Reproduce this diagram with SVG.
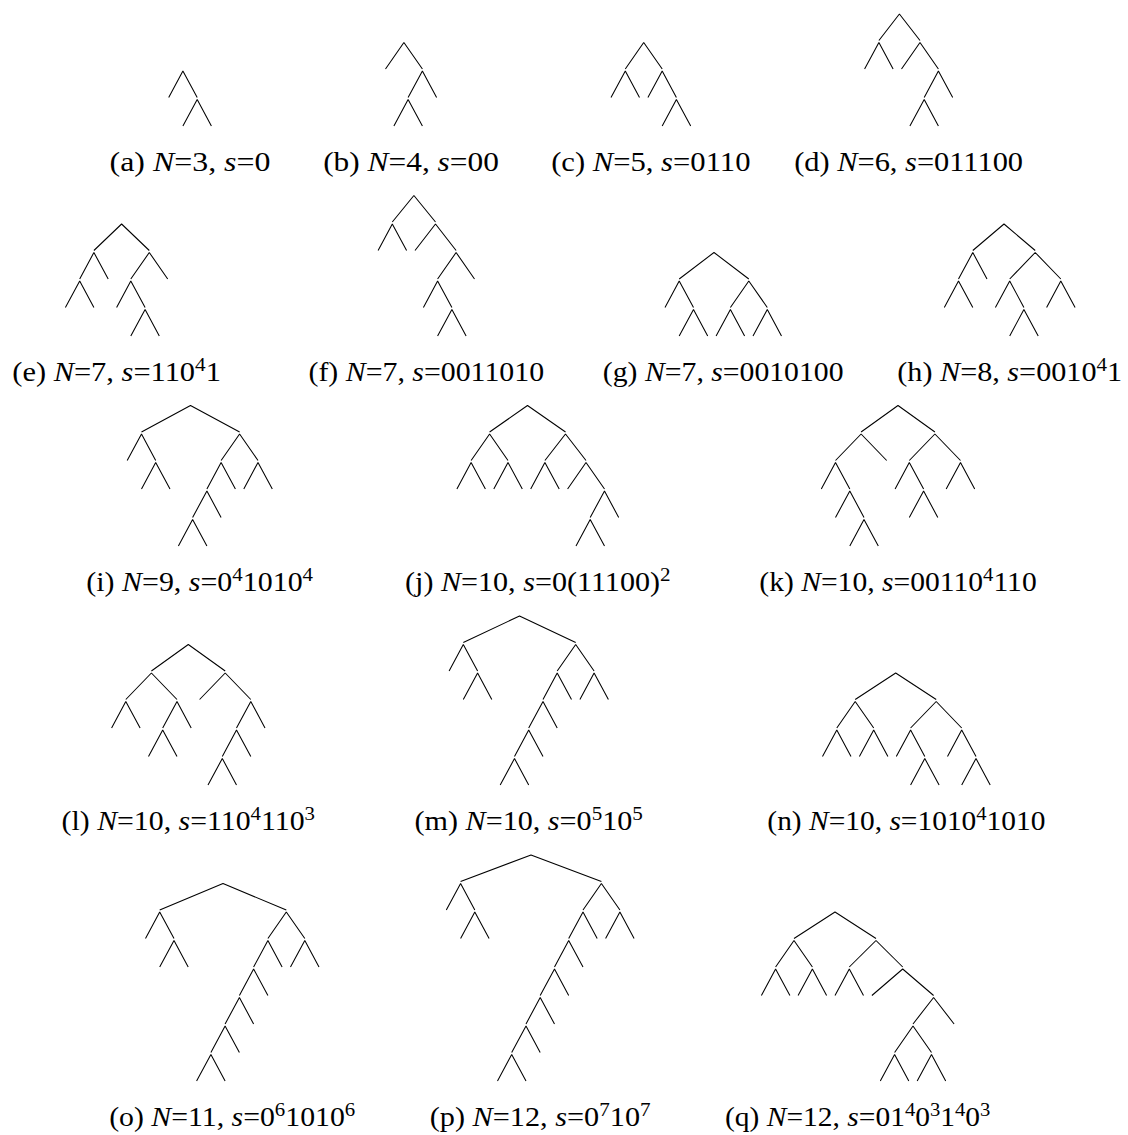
<svg xmlns="http://www.w3.org/2000/svg" width="1128" height="1135" viewBox="0 0 1128 1135">
<style>
.e{fill:none;stroke:#000;stroke-width:1.05;stroke-linejoin:bevel}
.cap{font-family:"Liberation Serif","Times New Roman",serif;font-size:26.6px;fill:#000;text-anchor:middle}
.i{font-style:italic}
.sup{font-size:18.6px}
</style>
<rect width="1128" height="1135" fill="#fff"/>
<g id="connectors">
<g id="tree-a" class="e">
<path d="M168.7,97.5 L182.9,71 L197.2,97.5 M182.9,126 L197.2,99.5 L211.4,126"/>
</g>
<g id="tree-b" class="e">
<path d="M385.5,69 L403.9,42.5 L422.4,69 M408.1,97.5 L422.4,71 L436.6,97.5 M393.9,126 L408.1,99.5 L422.4,126"/>
</g>
<g id="tree-c" class="e">
<path d="M625.3,69 L643.7,42.5 L662.2,69 M611,97.5 L625.3,71 L639.5,97.5 M647.9,97.5 L662.2,71 L676.4,97.5 M662.2,126 L676.4,99.5 L690.7,126"/>
</g>
<g id="tree-d" class="e">
<path d="M878.9,40.5 L899.4,14 L920,40.5 M864.6,69 L878.9,42.5 L893.1,69 M901.5,69 L920,42.5 L938.4,69 M924.2,97.5 L938.4,71 L952.7,97.5 M909.9,126 L924.2,99.5 L938.4,126"/>
</g>
<g id="tree-e" class="e">
<path d="M93.9,250.5 L121.6,224 L149.3,250.5 M79.7,279 L93.9,252.5 L108.2,279 M65.4,307.5 L79.7,281 L93.9,307.5 M130.8,279 L149.3,252.5 L167.7,279 M116.6,307.5 L130.8,281 L145.1,307.5 M130.8,336 L145.1,309.5 L159.3,336"/>
</g>
<g id="tree-f" class="e">
<path d="M392.3,222 L413.9,195.5 L435.5,222 M378.1,250.5 L392.3,224 L406.6,250.5 M415,250.5 L435.5,224 L456.1,250.5 M437.6,279 L456.1,252.5 L474.5,279 M423.4,307.5 L437.6,281 L451.9,307.5 M437.6,336 L451.9,309.5 L466.1,336"/>
</g>
<g id="tree-g" class="e">
<path d="M679.2,279 L714,252.5 L748.8,279 M665,307.5 L679.2,281 L693.5,307.5 M679.2,336 L693.5,309.5 L707.7,336 M730.4,307.5 L748.8,281 L767.3,307.5 M716.1,336 L730.4,309.5 L744.6,336 M753,336 L767.3,309.5 L781.5,336"/>
</g>
<g id="tree-h" class="e">
<path d="M972.8,250.5 L1004,224 L1035.2,250.5 M958.5,279 L972.8,252.5 L987,279 M944.3,307.5 L958.5,281 L972.8,307.5 M1009.7,279 L1035.2,252.5 L1060.8,279 M995.4,307.5 L1009.7,281 L1023.9,307.5 M1009.7,336 L1023.9,309.5 L1038.2,336 M1046.6,307.5 L1060.8,281 L1075.1,307.5"/>
</g>
<g id="tree-i" class="e">
<path d="M141.5,432 L190.5,405.5 L239.6,432 M127.2,460.5 L141.5,434 L155.7,460.5 M141.5,489 L155.7,462.5 L170,489 M221.1,460.5 L239.6,434 L258,460.5 M206.9,489 L221.1,462.5 L235.4,489 M192.6,517.5 L206.9,491 L221.1,517.5 M178.4,546 L192.6,519.5 L206.9,546 M243.8,489 L258,462.5 L272.3,489"/>
</g>
<g id="tree-j" class="e">
<path d="M489.6,432 L527.5,405.5 L565.5,432 M471.1,460.5 L489.6,434 L508,460.5 M456.9,489 L471.1,462.5 L485.4,489 M493.8,489 L508,462.5 L522.3,489 M544.9,460.5 L565.5,434 L586,460.5 M530.7,489 L544.9,462.5 L559.2,489 M567.6,489 L586,462.5 L604.5,489 M590.2,517.5 L604.5,491 L618.7,517.5 M576,546 L590.2,519.5 L604.5,546"/>
</g>
<g id="tree-k" class="e">
<path d="M861.1,432 L898,405.5 L934.9,432 M835.5,460.5 L861.1,434 L886.7,460.5 M821.3,489 L835.5,462.5 L849.8,489 M835.5,517.5 L849.8,491 L864,517.5 M849.8,546 L864,519.5 L878.3,546 M909.3,460.5 L934.9,434 L960.5,460.5 M895.1,489 L909.3,462.5 L923.6,489 M909.3,517.5 L923.6,491 L937.8,517.5 M946.2,489 L960.5,462.5 L974.7,489"/>
</g>
<g id="tree-l" class="e">
<path d="M151.4,671 L188.3,644.5 L225.2,671 M125.8,699.5 L151.4,673 L177,699.5 M111.6,728 L125.8,701.5 L140.1,728 M162.7,728 L177,701.5 L191.2,728 M148.5,756.5 L162.7,730 L177,756.5 M199.6,699.5 L225.2,673 L250.8,699.5 M236.5,728 L250.8,701.5 L265,728 M222.3,756.5 L236.5,730 L250.8,756.5 M208,785 L222.3,758.5 L236.5,785"/>
</g>
<g id="tree-m" class="e">
<path d="M463.3,642.5 L519.5,616 L575.7,642.5 M449.1,671 L463.3,644.5 L477.6,671 M463.3,699.5 L477.6,673 L491.8,699.5 M557.2,671 L575.7,644.5 L594.1,671 M579.9,699.5 L594.1,673 L608.4,699.5 M543,699.5 L557.2,673 L571.5,699.5 M528.7,728 L543,701.5 L557.2,728 M514.5,756.5 L528.7,730 L543,756.5 M500.2,785 L514.5,758.5 L528.7,785"/>
</g>
<g id="tree-n" class="e">
<path d="M855.2,699.5 L895.7,673 L936.2,699.5 M836.8,728 L855.2,701.5 L873.7,728 M822.5,756.5 L836.8,730 L851,756.5 M859.4,756.5 L873.7,730 L887.9,756.5 M910.6,728 L936.2,701.5 L961.7,728 M896.3,756.5 L910.6,730 L924.8,756.5 M910.6,785 L924.8,758.5 L939.1,785 M947.5,756.5 L961.7,730 L976,756.5 M961.7,785 L976,758.5 L990.2,785"/>
</g>
<g id="tree-o" class="e">
<path d="M159.7,910 L223,883.5 L286.3,910 M145.5,938.5 L159.7,912 L174,938.5 M159.7,967 L174,940.5 L188.2,967 M267.9,938.5 L286.3,912 L304.8,938.5 M290.5,967 L304.8,940.5 L319,967 M253.6,967 L267.9,940.5 L282.1,967 M239.4,995.5 L253.6,969 L267.9,995.5 M225.1,1024 L239.4,997.5 L253.6,1024 M210.9,1052.5 L225.1,1026 L239.4,1052.5 M196.6,1081 L210.9,1054.5 L225.1,1081"/>
</g>
<g id="tree-p" class="e">
<path d="M460.6,881.5 L531,855 L601.4,881.5 M446.3,910 L460.6,883.5 L474.8,910 M460.6,938.5 L474.8,912 L489.1,938.5 M583,910 L601.4,883.5 L619.9,910 M605.6,938.5 L619.9,912 L634.1,938.5 M568.7,938.5 L583,912 L597.2,938.5 M554.5,967 L568.7,940.5 L583,967 M540.2,995.5 L554.5,969 L568.7,995.5 M526,1024 L540.2,997.5 L554.5,1024 M511.7,1052.5 L526,1026 L540.2,1052.5 M497.5,1081 L511.7,1054.5 L526,1081"/>
</g>
<g id="tree-q" class="e">
<path d="M794,938.5 L835,912 L876,938.5 M775.6,967 L794,940.5 L812.4,967 M761.4,995.5 L775.6,969 L789.9,995.5 M798.1,995.5 L812.4,969 L826.6,995.5 M849.3,967 L876,940.5 L902.7,967 M835,995.5 L849.3,969 L863.5,995.5 M871.9,995.5 L902.7,969 L933.6,995.5 M913,1024 L933.6,997.5 L954.1,1024 M894.6,1052.5 L913,1026 L931.5,1052.5 M880.3,1081 L894.6,1054.5 L908.8,1081 M917.2,1081 L931.5,1054.5 L945.7,1081"/>
</g>
</g>
<g id="captions">
<text id="cap-a" class="cap" x="190" y="170.7" textLength="160.9" lengthAdjust="spacingAndGlyphs">(a) <tspan class="i">N</tspan>=3, <tspan class="i">s</tspan>=0</text>
<text id="cap-b" class="cap" x="411" y="170.7" textLength="175.7" lengthAdjust="spacingAndGlyphs">(b) <tspan class="i">N</tspan>=4, <tspan class="i">s</tspan>=00</text>
<text id="cap-c" class="cap" x="650.8" y="170.7" textLength="199.3" lengthAdjust="spacingAndGlyphs">(c) <tspan class="i">N</tspan>=5, <tspan class="i">s</tspan>=0110</text>
<text id="cap-d" class="cap" x="908.6" y="170.7" textLength="228.9" lengthAdjust="spacingAndGlyphs">(d) <tspan class="i">N</tspan>=6, <tspan class="i">s</tspan>=011100</text>
<text id="cap-e" class="cap" x="116.6" y="380.7" textLength="208.7" lengthAdjust="spacingAndGlyphs">(e) <tspan class="i">N</tspan>=7, <tspan class="i">s</tspan>=110<tspan class="sup" dy="-9.6">4</tspan><tspan dy="9.6">1</tspan></text>
<text id="cap-f" class="cap" x="426.3" y="380.7" textLength="235.6" lengthAdjust="spacingAndGlyphs">(f) <tspan class="i">N</tspan>=7, <tspan class="i">s</tspan>=0011010</text>
<text id="cap-g" class="cap" x="723.2" y="380.7" textLength="240.7" lengthAdjust="spacingAndGlyphs">(g) <tspan class="i">N</tspan>=7, <tspan class="i">s</tspan>=0010100</text>
<text id="cap-h" class="cap" x="1009.7" y="380.7" textLength="224.9" lengthAdjust="spacingAndGlyphs">(h) <tspan class="i">N</tspan>=8, <tspan class="i">s</tspan>=0010<tspan class="sup" dy="-9.6">4</tspan><tspan dy="9.6">1</tspan></text>
<text id="cap-i" class="cap" x="199.7" y="590.7" textLength="226.8" lengthAdjust="spacingAndGlyphs">(i) <tspan class="i">N</tspan>=9, <tspan class="i">s</tspan>=0<tspan class="sup" dy="-9.6">4</tspan><tspan dy="9.6">1010</tspan><tspan class="sup" dy="-9.6">4</tspan></text>
<text id="cap-j" class="cap" x="537.8" y="590.7" textLength="265.6" lengthAdjust="spacingAndGlyphs">(j) <tspan class="i">N</tspan>=10, <tspan class="i">s</tspan>=0(11100)<tspan class="sup" dy="-9.6">2</tspan></text>
<text id="cap-k" class="cap" x="898" y="590.7" textLength="277.4" lengthAdjust="spacingAndGlyphs">(k) <tspan class="i">N</tspan>=10, <tspan class="i">s</tspan>=00110<tspan class="sup" dy="-9.6">4</tspan><tspan dy="9.6">110</tspan></text>
<text id="cap-l" class="cap" x="188.3" y="830" textLength="253.4" lengthAdjust="spacingAndGlyphs">(l) <tspan class="i">N</tspan>=10, <tspan class="i">s</tspan>=110<tspan class="sup" dy="-9.6">4</tspan><tspan dy="9.6">110</tspan><tspan class="sup" dy="-9.6">3</tspan></text>
<text id="cap-m" class="cap" x="528.7" y="830" textLength="228.3" lengthAdjust="spacingAndGlyphs">(m) <tspan class="i">N</tspan>=10, <tspan class="i">s</tspan>=0<tspan class="sup" dy="-9.6">5</tspan><tspan dy="9.6">10</tspan><tspan class="sup" dy="-9.6">5</tspan></text>
<text id="cap-n" class="cap" x="906.4" y="830" textLength="278.1" lengthAdjust="spacingAndGlyphs">(n) <tspan class="i">N</tspan>=10, <tspan class="i">s</tspan>=1010<tspan class="sup" dy="-9.6">4</tspan><tspan dy="9.6">1010</tspan></text>
<text id="cap-o" class="cap" x="232.2" y="1125.5" textLength="246.1" lengthAdjust="spacingAndGlyphs">(o) <tspan class="i">N</tspan>=11, <tspan class="i">s</tspan>=0<tspan class="sup" dy="-9.6">6</tspan><tspan dy="9.6">1010</tspan><tspan class="sup" dy="-9.6">6</tspan></text>
<text id="cap-p" class="cap" x="540.2" y="1125.5" textLength="220.9" lengthAdjust="spacingAndGlyphs">(p) <tspan class="i">N</tspan>=12, <tspan class="i">s</tspan>=0<tspan class="sup" dy="-9.6">7</tspan><tspan dy="9.6">10</tspan><tspan class="sup" dy="-9.6">7</tspan></text>
<text id="cap-q" class="cap" x="857.7" y="1125.5" textLength="265.4" lengthAdjust="spacingAndGlyphs">(q) <tspan class="i">N</tspan>=12, <tspan class="i">s</tspan>=01<tspan class="sup" dy="-9.6">4</tspan><tspan dy="9.6">0</tspan><tspan class="sup" dy="-9.6">3</tspan><tspan dy="9.6">1</tspan><tspan class="sup" dy="-9.6">4</tspan><tspan dy="9.6">0</tspan><tspan class="sup" dy="-9.6">3</tspan></text>
</g>
</svg>
